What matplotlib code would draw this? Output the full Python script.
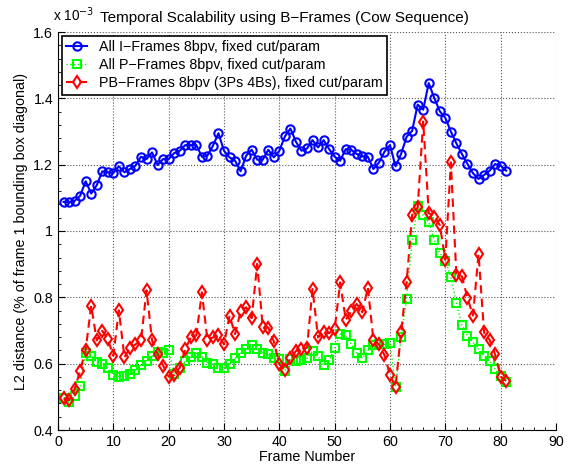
import matplotlib

matplotlib.use("agg")
import matplotlib.pyplot as plt
from matplotlib.ticker import MultipleLocator, FormatStrFormatter

plt.rcParams["font.family"] = ["Liberation Sans", "DejaVu Sans"]

frames = list(range(1, 82))

# values in units of 1e-3
i_frames = [
    1.088, 1.086, 1.091, 1.106, 1.150, 1.113, 1.138, 1.180, 1.177, 1.175,
    1.195, 1.177, 1.187, 1.197, 1.224, 1.217, 1.237, 1.199, 1.217, 1.217,
    1.235, 1.242, 1.259, 1.259, 1.259, 1.224, 1.227, 1.257, 1.295, 1.242,
    1.222, 1.212, 1.180, 1.227, 1.245, 1.215, 1.215, 1.245, 1.222, 1.242,
    1.285, 1.309, 1.269, 1.242, 1.249, 1.274, 1.252, 1.274, 1.247, 1.224,
    1.212, 1.247, 1.245, 1.232, 1.225, 1.224, 1.187, 1.206, 1.239, 1.259,
    1.195, 1.232, 1.284, 1.302, 1.381, 1.366, 1.446, 1.401, 1.361, 1.341,
    1.300, 1.264, 1.232, 1.202, 1.174, 1.157, 1.169, 1.182, 1.202, 1.197,
    1.182,
]

p_frames = [
    0.495, 0.485, 0.503, 0.533, 0.631, 0.624, 0.606, 0.598, 0.586, 0.566,
    0.561, 0.564, 0.569, 0.581, 0.596, 0.609, 0.623, 0.634, 0.633, 0.641,
    0.568, 0.588, 0.608, 0.621, 0.631, 0.621, 0.603, 0.598, 0.586, 0.588,
    0.598, 0.616, 0.631, 0.644, 0.655, 0.644, 0.633, 0.628, 0.616, 0.613,
    0.578, 0.614, 0.608, 0.611, 0.616, 0.638, 0.623, 0.596, 0.611, 0.646,
    0.689, 0.685, 0.658, 0.631, 0.616, 0.640, 0.657, 0.658, 0.658, 0.662,
    0.530, 0.679, 0.795, 0.972, 1.076, 1.048, 1.027, 0.972, 0.934, 0.911,
    0.861, 0.783, 0.717, 0.684, 0.664, 0.643, 0.623, 0.608, 0.584, 0.564,
    0.545,
]

pb_frames = [
    0.495, 0.490, 0.523, 0.579, 0.642, 0.775, 0.670, 0.699, 0.674, 0.624,
    0.761, 0.619, 0.648, 0.658, 0.670, 0.821, 0.670, 0.629, 0.594, 0.561,
    0.566, 0.588, 0.644, 0.679, 0.685, 0.815, 0.672, 0.679, 0.685, 0.658,
    0.745, 0.689, 0.758, 0.770, 0.737, 0.901, 0.711, 0.709, 0.667, 0.598,
    0.581, 0.616, 0.638, 0.644, 0.648, 0.825, 0.679, 0.695, 0.692, 0.704,
    0.845, 0.732, 0.758, 0.780, 0.755, 0.829, 0.672, 0.658, 0.626, 0.566,
    0.530, 0.694, 0.845, 1.048, 1.071, 1.330, 1.054, 1.043, 1.018, 0.914,
    1.207, 0.866, 0.863, 0.798, 0.745, 0.931, 0.694, 0.672, 0.628, 0.561,
    0.548,
]

labels = [
    "All I\u2212Frames 8bpv, fixed cut/param",
    "All P\u2212Frames 8bpv, fixed cut/param",
    "PB\u2212Frames 8bpv (3Ps 4Bs), fixed cut/param",
]

fig = plt.figure(figsize=(5.72, 4.68), dpi=100)
ax = fig.add_axes([58 / 572, 1 - 430 / 468, 498 / 572, 398 / 468])

ax.plot(frames, i_frames, color="blue", ls="-", lw=1.5, marker="o",
        ms=6, mfc="none", mew=1.5, label=labels[0])
ax.plot(frames, p_frames, color="#00ff00", ls=":", lw=1.0, marker="s",
        ms=5.5, mfc="none", mew=1.5, label=labels[1])
ax.plot(frames, pb_frames, color="red", ls=(0, (4, 2.5)), lw=1.5, marker="d",
        ms=6.5, mfc="none", mew=1.5, label=labels[2])

ax.set_xlim(0, 90)
ax.set_ylim(0.4, 1.6)
ax.xaxis.set_major_locator(MultipleLocator(10))
ax.yaxis.set_major_locator(MultipleLocator(0.2))
ax.xaxis.set_minor_locator(MultipleLocator(2))
ax.yaxis.set_minor_locator(MultipleLocator(0.04))
ax.yaxis.set_major_formatter(FormatStrFormatter("%g"))
ax.tick_params(which="both", direction="in", labelsize=10.3)
ax.tick_params(which="major", length=5)
ax.tick_params(which="minor", length=2.5)
ax.grid(True, ls=":", color="#555555", lw=0.8)

for s in ["top", "right"]:
    ax.spines[s].set_visible(False)

ax.set_xlabel("Frame Number", fontsize=10.3, labelpad=1)
ax.set_ylabel("L2 distance (% of frame 1 bounding box diagonal)", fontsize=10.3)
ax.set_title("Temporal Scalability using B\u2212Frames (Cow Sequence)",
             fontsize=11, x=0.455, pad=7)
fig.text(53 / 572, 1 - 21 / 468, "x 10$^{-3}$", fontsize=9.8, ha="left")

leg = ax.legend(loc="upper left", fontsize=10.3, frameon=True, fancybox=False,
                edgecolor="black", framealpha=1, borderaxespad=0.25,
                handlelength=1.5, handletextpad=0.8, labelspacing=0.3,
                borderpad=0.3)
leg.get_frame().set_linewidth(1.2)

fig.savefig("out.png", dpi=100)
